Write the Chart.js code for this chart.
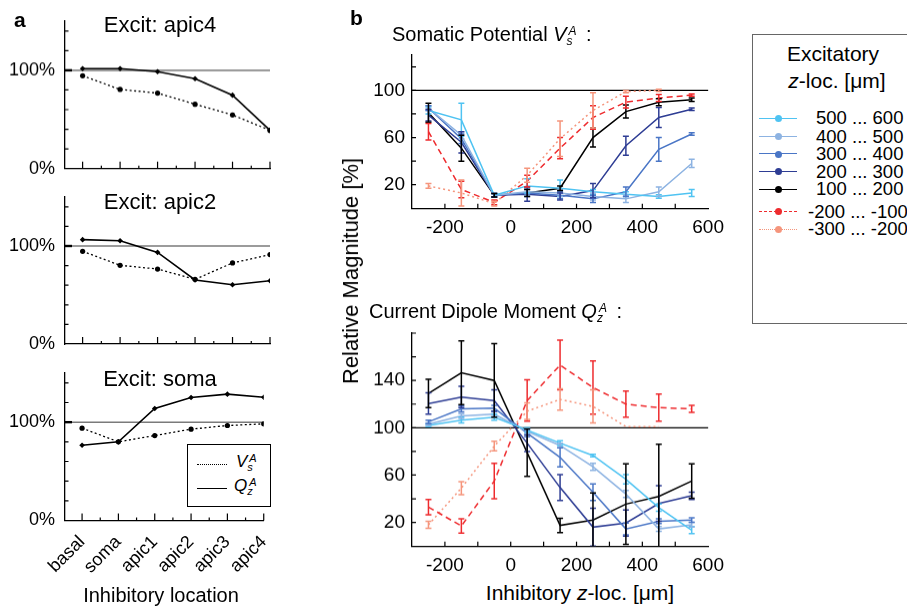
<!DOCTYPE html>
<html><head><meta charset="utf-8">
<script src="https://cdn.jsdelivr.net/npm/chart.js@4.4.1/dist/chart.umd.min.js"></script>
<style>
html,body{margin:0;padding:0;background:#fff;}
body{width:907px;height:613px;position:relative;overflow:hidden;font-family:"Liberation Sans",Arial,Helvetica,sans-serif;color:#000;}
.cv{position:absolute;}
.t{position:absolute;white-space:nowrap;line-height:1;}
.ss{position:relative;display:inline-block;height:1px;}
.ss span{position:absolute;left:0;font-style:italic;line-height:1;}
.lg{position:absolute;border:1.5px solid #666;background:#fff;}
.ln{position:absolute;height:0;}
.dot{position:absolute;border-radius:50%;}
</style></head>
<body>

<div class="cv" style="left:0;top:-1px;width:290px;height:190.7px"><canvas id="a1"></canvas></div>
<div class="cv" style="left:0;top:175px;width:290px;height:191px"><canvas id="a2"></canvas></div>
<div class="cv" style="left:0;top:350.8px;width:290px;height:229.5px"><canvas id="a3"></canvas></div>
<div class="cv" style="left:362.3px;top:34.6px;width:370px;height:208.3px"><canvas id="b1"></canvas></div>
<div class="cv" style="left:362.3px;top:313.4px;width:370px;height:267.2px"><canvas id="b2"></canvas></div>

<div class="t" style="left:14px;top:9px;font-weight:bold;font-size:21px">a</div>
<div class="t" style="left:350px;top:7px;font-weight:bold;font-size:21px">b</div>

<div class="t" style="left:60px;top:14.4px;width:200px;text-align:center;font-size:22px">Excit: apic4</div>
<div class="t" style="left:60px;top:191.4px;width:200px;text-align:center;font-size:22px">Excit: apic2</div>
<div class="t" style="left:60px;top:368.1px;width:200px;text-align:center;font-size:22px">Excit: soma</div>
<div class="t" style="left:61px;top:585px;width:200px;text-align:center;font-size:20px">Inhibitory location</div>

<div class="lg" style="left:187px;top:444px;width:82px;height:61px;border:1px solid #000"></div>
<div class="ln" style="left:197px;top:464px;width:30px;border-top:1.5px dotted #000"></div>
<div class="t" style="left:236px;top:452.5px;font-size:17px"><i>V</i><span class="ss" style="width:12px"><span style="top:-13px;left:2px;font-size:11px">A</span><span style="top:-4px;font-size:11px">s</span></span></div>
<div class="ln" style="left:197px;top:488px;width:30px;border-top:1.5px solid #000"></div>
<div class="t" style="left:234px;top:476.5px;font-size:17px"><i>Q</i><span class="ss" style="width:12px"><span style="top:-13px;left:2px;font-size:11px">A</span><span style="top:-4px;font-size:11px">z</span></span></div>

<div class="t" style="left:392px;top:23.8px;font-size:20px">Somatic Potential <i>V</i><span class="ss" style="width:14px"><span style="top:-15px;left:2px;font-size:12px">A</span><span style="top:-5px;font-size:12px">s</span></span> :</div>
<div class="t" style="left:369px;top:301.4px;font-size:20px">Current Dipole Moment <i>Q</i><span class="ss" style="width:14px"><span style="top:-15px;left:2px;font-size:12px">A</span><span style="top:-5px;font-size:12px">z</span></span> :</div>
<div class="t" style="left:351px;top:271px;font-size:22px;transform:translate(-50%,-50%) rotate(-90deg)">Relative Magnitude [%]</div>
<div class="t" style="left:480px;top:581.5px;width:200px;text-align:center;font-size:21px">Inhibitory <i>z</i>-loc. [μm]</div>

<div class="lg" style="left:751.7px;top:34px;width:200px;height:288px"></div>
<div class="t" style="left:733px;top:43px;width:200px;text-align:center;font-size:21px">Excitatory</div>
<div class="t" style="left:737px;top:70px;width:200px;text-align:center;font-size:21px"><i>z</i>-loc. [μm]</div>
<div id="legB"></div>

<script>
// ---------- Panel a data ----------
const inhibLocations = ['basal', 'soma', 'apic1', 'apic2', 'apic3', 'apic4'];
const apic4_Vs = [94.5, 80.5, 76.8, 65.5, 54.6, 38.9];
const apic4_Qz = [101.7, 101.7, 98.6, 91.5, 74.7, 38.9];
const apic2_Vs = [94.6, 80.3, 76.5, 66.0, 82.7, 91.2];
const apic2_Qz = [106.5, 105.4, 93.5, 65.3, 60.5, 64.6];
const soma_Vs = [93.9, 80.0, 86.4, 92.9, 96.6, 98.3];
const soma_Qz = [76.6, 80.0, 113.9, 125.1, 128.5, 125.4];
const pctTickLabels = [0, 100];
const pctTickMarks = [20, 40, 60, 80, 100, 120, 140];

// ---------- Panel b data ----------
const zInhib = [-250, -150, -50, 50, 150, 250, 350, 450, 550];
const groupLabels = ['500 ... 600', '400 ... 500', '300 ... 400', '200 ... 300', '100 ... 200', '-200 ... -100', '-300 ... -200'];
const zTickLabels = [-200, 0, 200, 400, 600];
const zTickMarks = [-200, -100, 0, 100, 200, 300, 400, 500];
const vsTickLabels = [20, 60, 100];
const vsTickMarks = [20, 40, 60, 80, 100, 120];
const qzTickLabels = [20, 60, 100, 140];
const qzTickMarks = [20, 40, 60, 80, 100, 120, 140, 160, 180];

// Somatic potential Vs (mean, error)
const vs_500 = [83, 75, 11, 19, 17, 14, 12, 10, 13];
const vs_500_err = [3, 14, 1.5, 6, 7, 2, 2, 1.5, 3];
const vs_400 = [85, 62, 11, 14, 13, 10, 8, 14, 38];
const vs_400_err = [2, 3, 1.5, 3, 3, 3, 3, 4, 3.5];
const vs_300 = [85, 59, 11, 13, 11, 8, 14, 50, 63];
const vs_300_err = [2, 4, 1.5, 3, 3, 3, 4, 10, 1];
const vs_200 = [79, 56, 11, 12, 10, 15, 53, 77, 84];
const vs_200_err = [5, 9, 1.5, 6, 3, 6, 8, 8.5, 1];
const vs_100 = [81, 51, 11, 13, 17, 60, 82, 90, 92];
const vs_100_err = [8, 11, 1.5, 3, 2, 8, 5.5, 3, 1.5];
const vs_m100 = [65, 16, 5, 23, 51, 77, 90, 93.5, 96];
const vs_m100_err = [7, 7, 2, 5, 9, 10, 5, 3, 1];
const vs_m200 = [19, 13, 4, 28, 59, 83, 99, 100, null];
const vs_m200_err = [2, 11, 2, 6, 15, 15, 1, 1, null];

// Current dipole moment Qz (mean, error)
const qz_500 = [102, 106.5, 109, 98, 87, 76.5, 56.5, 32.5, 13.5];
const qz_500_err = [1, 2.5, 2.5, 2, 2, 1, 4, 3, 3];
const qz_400 = [103, 110, 111.5, 97, 85, 67, 44, 14.5, 18];
const qz_400_err = [1, 2, 2, 2, 2, 3, 3, 2, 2];
const qz_300 = [105, 116, 116.5, 95.5, 75, 45.5, 14.5, 21, 22];
const qz_300_err = [1.5, 2.5, 2.5, 3, 8, 7, 5, 2, 2];
const qz_200 = [120.5, 126, 123, 87, 49.5, 16, 19.5, 36, 42.5];
const qz_200_err = [9, 9, 9, 7, 11, 16, 11, 15, 3];
const qz_100 = [129, 146.5, 140, 79, 17.5, 22, 35.5, 42, 55];
const qz_100_err = [12, 27, 31, 20, 6, 23, 34, 44, 14.5];
const qz_m100 = [33, 17, 55, 123, 153, 134, 120, 117, 116];
const qz_m100_err = [6.5, 6, 15, 17.5, 21, 22.5, 11, 11.5, 3];
const qz_m200 = [18, 49, 84.5, 114, 124, 118, 101, 101, null];
const qz_m200_err = [3, 5.5, 4, 7, 9, 14, 0, 0, null];

// ---------- styles ----------
const FONT = '"Liberation Sans", Arial, Helvetica, sans-serif';
const groupColors = ['#4fc3f2', '#8db3e2', '#4a76c6', '#2e3d94', '#000000', '#ee2b2e', '#f5957c'];
const groupDash = [[], [], [], [], [], [6, 4], [2, 3]];

Chart.defaults.font.family = FONT;
Chart.defaults.color = '#000';

const decoPlugin = {
  id: 'deco',
  beforeDatasetsDraw(chart, args, o) {
    if (o.refY == null) return;
    const { ctx, chartArea: ca, scales: { y } } = chart;
    const py = y.getPixelForValue(o.refY);
    ctx.save();
    ctx.strokeStyle = o.refColor; ctx.lineWidth = o.refWidth; ctx.setLineDash([]);
    ctx.beginPath(); ctx.moveTo(ca.left, py); ctx.lineTo(ca.right, py); ctx.stroke();
    ctx.restore();
  },
  afterDraw(chart, args, o) {
    if (!o.yMarks) return;
    const { ctx, chartArea: ca, scales: { x, y } } = chart;
    ctx.save();
    ctx.strokeStyle = '#000'; ctx.lineWidth = 1.2; ctx.setLineDash([]);
    ctx.beginPath();
    (o.yMarks || []).forEach(v => { const py = y.getPixelForValue(v); ctx.moveTo(ca.left, py); ctx.lineTo(ca.left + o.yLen, py); });
    (o.xMajor || []).forEach(v => { const px = x.getPixelForValue(v); ctx.moveTo(px, ca.bottom); ctx.lineTo(px, ca.bottom - o.xMajorLen); });
    (o.xMinor || []).forEach(v => { const px = x.getPixelForValue(v); ctx.moveTo(px, ca.bottom); ctx.lineTo(px, ca.bottom - o.xMinorLen); });
    ctx.stroke();
    if (o.yBold != null) {
      const py = y.getPixelForValue(o.yBold);
      ctx.lineWidth = 2.4; ctx.beginPath(); ctx.moveTo(ca.left, py); ctx.lineTo(ca.left + 7, py); ctx.stroke();
    }
    ctx.restore();
  }
};

const errPlugin = {
  id: 'errbars',
  afterDatasetsDraw(chart) {
    const { ctx, chartArea: ca, scales: { x, y } } = chart;
    ctx.save();
    ctx.beginPath(); ctx.rect(ca.left, ca.top - 2, ca.width, ca.height + 2); ctx.clip();
    chart.data.datasets.forEach(ds => {
      if (!ds.errors) return;
      ctx.strokeStyle = ds.borderColor; ctx.lineWidth = 1.5; ctx.setLineDash([]);
      ds.data.forEach((p, i) => {
        const e = ds.errors[i];
        if (p.y == null || e == null || e === 0) return;
        const px = x.getPixelForValue(p.x);
        const y1 = y.getPixelForValue(p.y - e), y2 = y.getPixelForValue(p.y + e);
        ctx.beginPath();
        ctx.moveTo(px, y1); ctx.lineTo(px, y2);
        ctx.moveTo(px - 3, y1); ctx.lineTo(px + 3, y1);
        ctx.moveTo(px - 3, y2); ctx.lineTo(px + 3, y2);
        ctx.stroke();
      });
    });
    ctx.restore();
  }
};
Chart.register(decoPlugin, errPlugin);

const axisGrid = { display: true, drawOnChartArea: false, drawTicks: false };
const axisBorder = { color: '#000', width: 1.3 };

function makePanelA(id, vs, qz, showLabels) {
  const datasets = [
    { label: 'Vs', data: vs.map((v, i) => ({ x: i, y: v })), borderColor: '#000', backgroundColor: '#000',
      borderWidth: 1.3, borderDash: [2, 2.5], pointRadius: 2.6, pointStyle: 'circle', pointBorderWidth: 0 },
    { label: 'Qz', data: qz.map((v, i) => ({ x: i, y: v })), borderColor: '#000', backgroundColor: '#000',
      borderWidth: 1.6, pointRadius: 2.8, pointStyle: 'rectRot', pointBorderWidth: 0 }
  ];
  new Chart(document.getElementById(id), {
    type: 'line',
    data: { datasets },
    options: {
      animation: false, responsive: true, maintainAspectRatio: false, events: [],
      layout: { padding: { top: 22, right: 20, left: 0, bottom: 0 } },
      plugins: {
        legend: { display: false }, tooltip: { enabled: false },
        deco: { refY: 100, refColor: '#7a7a7a', refWidth: 1.5, yMarks: pctTickMarks, yLen: 3.5, yBold: 100,
          xMajor: inhibLocations.map((_, i) => i), xMajorLen: 7,
          xMinor: inhibLocations.slice(1).map((_, i) => i + 0.5), xMinorLen: 3 }
      },
      scales: {
        x: { type: 'linear', min: -0.47, max: 5, grid: axisGrid, border: axisBorder,
          afterBuildTicks: s => { s.ticks = inhibLocations.map((_, i) => ({ value: i })); },
          ticks: { display: showLabels, autoSkip: false, minRotation: 45, maxRotation: 45, padding: 11,
            font: { size: 18 }, callback: v => inhibLocations[v] },
          afterFit: s => { s.height = showLabels ? 60 : 22; } },
        y: { type: 'linear', min: 0, max: 150, grid: axisGrid, border: axisBorder,
          afterBuildTicks: s => { s.ticks = pctTickLabels.map(v => ({ value: v })); },
          ticks: { padding: 10, font: { size: 18 }, callback: v => v + '%' },
          afterFit: s => { s.width = 65; } }
      }
    }
  });
}

function makePanelB(id, series, errs, yMax, yLabels, yMarks) {
  const datasets = series.map((vals, g) => ({
    label: groupLabels[g],
    data: zInhib.map((z, i) => ({ x: z, y: vals[i] })),
    errors: errs[g],
    borderColor: groupColors[g], backgroundColor: groupColors[g],
    borderWidth: 1.5, borderDash: groupDash[g], pointRadius: 0, spanGaps: false
  }));
  new Chart(document.getElementById(id), {
    type: 'line',
    data: { datasets },
    options: {
      animation: false, responsive: true, maintainAspectRatio: false, events: [],
      layout: { padding: { top: 20, right: 20, left: 0, bottom: 0 } },
      plugins: {
        legend: { display: false }, tooltip: { enabled: false },
        deco: { refY: 100, refColor: '#000', refWidth: 1.2, yMarks: yMarks, yLen: 4,
          xMajor: zTickMarks, xMajorLen: 4.5, xMinor: [], xMinorLen: 0 }
      },
      scales: {
        x: { type: 'linear', min: -300, max: 600, grid: axisGrid, border: axisBorder,
          afterBuildTicks: s => { s.ticks = zTickLabels.map(v => ({ value: v })); },
          ticks: { autoSkip: false, maxRotation: 0, padding: 8, font: { size: 19 } },
          afterFit: s => { s.height = 35; } },
        y: { type: 'linear', min: 0, max: yMax, grid: axisGrid, border: axisBorder,
          afterBuildTicks: s => { s.ticks = yLabels.map(v => ({ value: v })); },
          ticks: { padding: 7, font: { size: 19 } },
          afterFit: s => { s.width = 50; } }
      }
    }
  });
}

makePanelA('a1', apic4_Vs, apic4_Qz, false);
makePanelA('a2', apic2_Vs, apic2_Qz, false);
makePanelA('a3', soma_Vs, soma_Qz, true);

makePanelB('b1',
  [vs_500, vs_400, vs_300, vs_200, vs_100, vs_m100, vs_m200],
  [vs_500_err, vs_400_err, vs_300_err, vs_200_err, vs_100_err, vs_m100_err, vs_m200_err],
  130, vsTickLabels, vsTickMarks);
makePanelB('b2',
  [qz_500, qz_400, qz_300, qz_200, qz_100, qz_m100, qz_m200],
  [qz_500_err, qz_400_err, qz_300_err, qz_200_err, qz_100_err, qz_m100_err, qz_m200_err],
  180, qzTickLabels, qzTickMarks);

// legend for panel b
const legRowsY = [118.3, 136.7, 154, 171.7, 189.3, 211.7, 229.3];
const legHost = document.getElementById('legB');
groupLabels.forEach((lab, g) => {
  const yc = legRowsY[g];
  const style = g === 5 ? 'dashed' : (g === 6 ? 'dotted' : 'solid');
  const ln = document.createElement('div');
  ln.className = 'ln';
  ln.style.cssText = `left:759px;top:${yc - 0.75}px;width:38px;border-top:1.5px ${style} ${groupColors[g]}`;
  legHost.appendChild(ln);
  const dot = document.createElement('div');
  dot.className = 'dot';
  dot.style.cssText = `left:774.5px;top:${yc - 3.5}px;width:7px;height:7px;background:${groupColors[g]}`;
  legHost.appendChild(dot);
  const tx = document.createElement('div');
  tx.className = 't';
  tx.style.cssText = `left:${lab.startsWith('-') ? 808 : 816}px;top:${yc - 9}px;font-size:18.5px`;
  tx.textContent = lab;
  legHost.appendChild(tx);
});
</script>
</body></html>
